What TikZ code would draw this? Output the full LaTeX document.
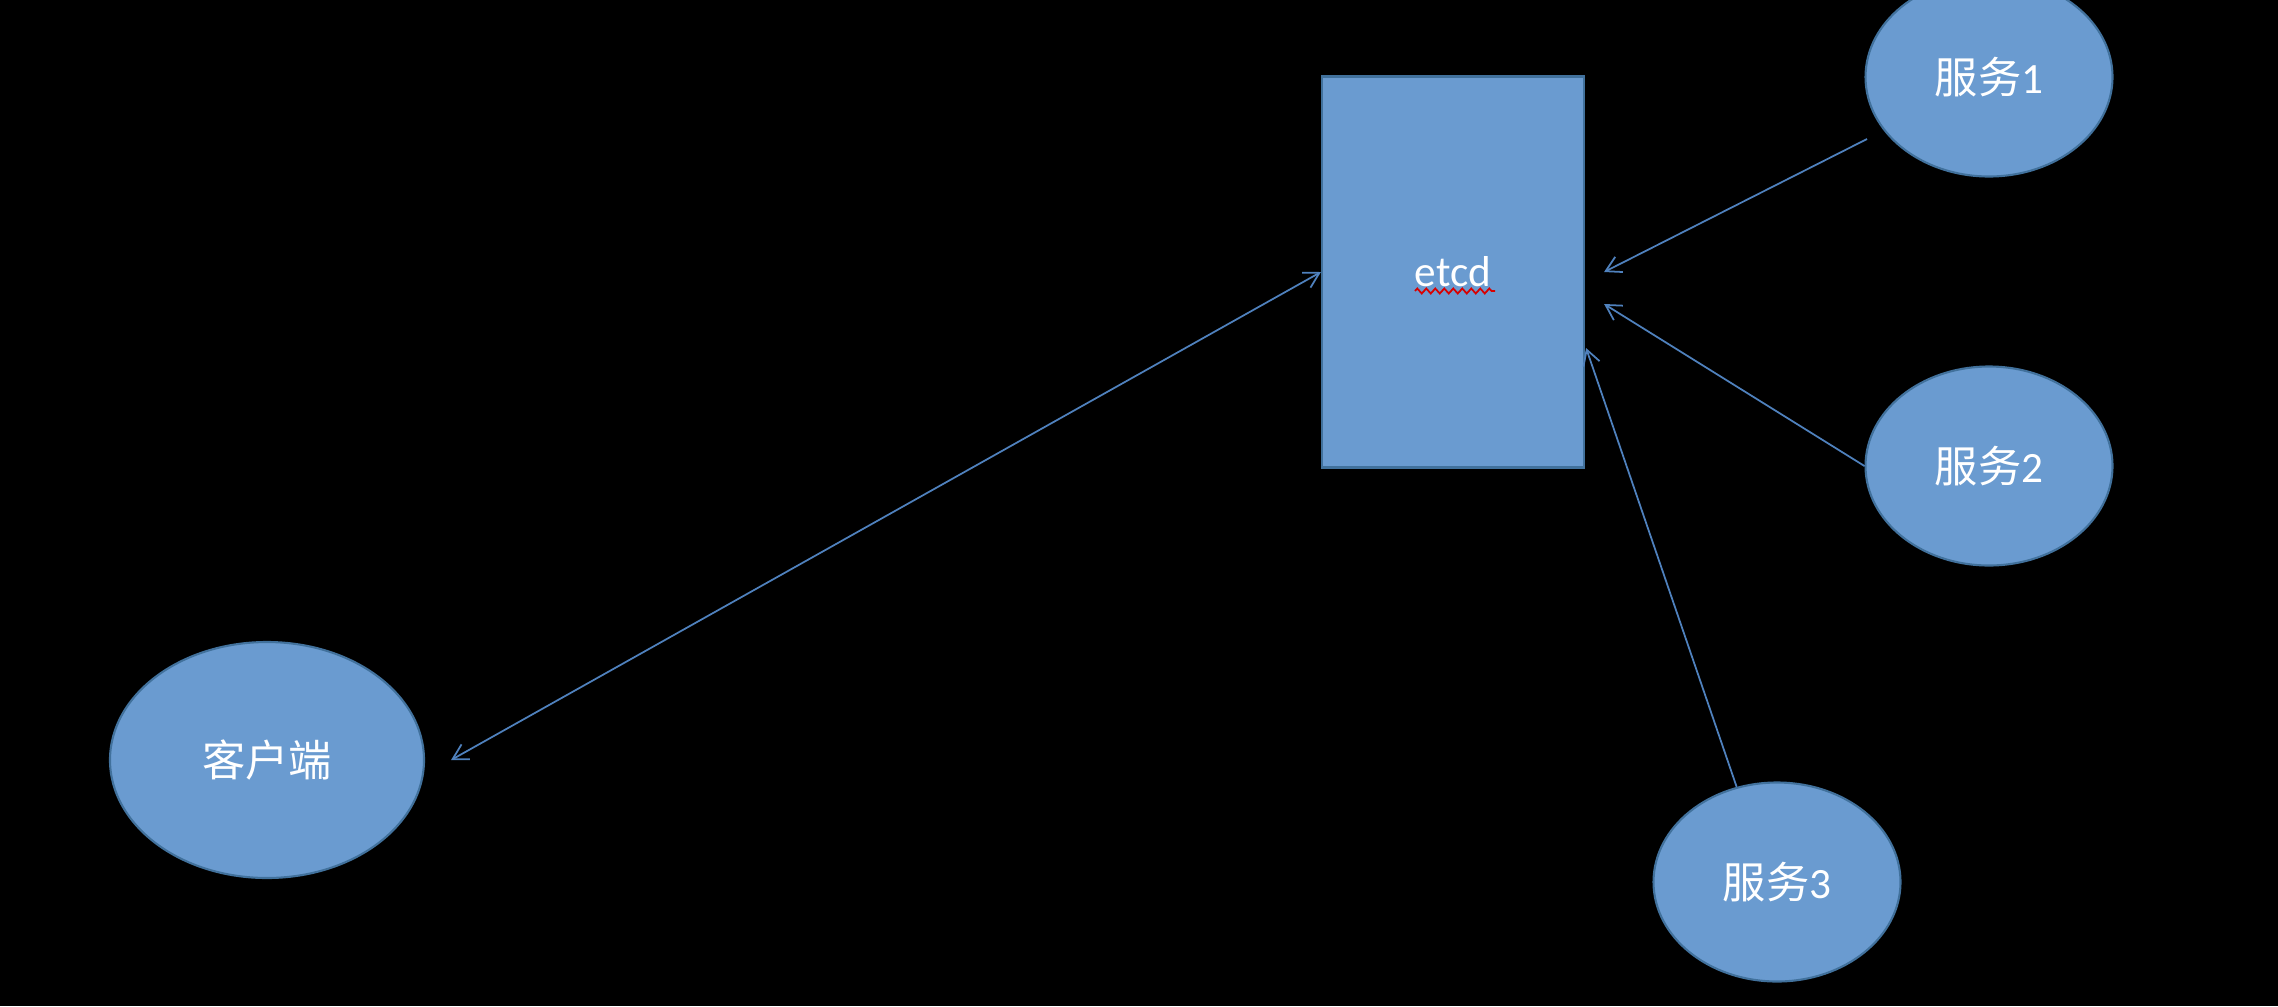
\documentclass[tikz,border=0pt]{standalone}
\usepackage{fontspec}
\usetikzlibrary{positioning,shapes.geometric,arrows.meta,decorations.pathmorphing}
\newfontfamily\cjk{Noto Sans CJK SC}
\newfontfamily\latin{Carlito}
\definecolor{shapefill}{RGB}{106,155,208}
\definecolor{shapeline}{RGB}{65,113,156}
\definecolor{linkline}{RGB}{79,129,189}
\tikzset{
	box/.style={rectangle, fill=shapefill, draw=shapeline, line width=0.6pt, minimum width=2.62cm, minimum height=3.91cm, inner sep=0pt, text=white},
	svc/.style={ellipse, fill=shapefill, draw=shapeline, line width=0.6pt, minimum width=2.47cm, minimum height=1.99cm, inner sep=0pt, text=white},
	link/.style={draw=linkline, line width=0.5pt, -{Straight Barb[length=1.5mm,width=1.7mm]}},
}

\begin{document}
\begin{tikzpicture}[font=\fontsize{12.3}{15}\selectfont]
			%%%%% START %%%%%
			
			\useasboundingbox (0, 0) rectangle (22.78, 10.06);
			\fill[black] (0, 0) rectangle (22.78, 10.06);
			\clip (0, 0) rectangle (22.78, 10.06);
			
			\node[box] (etcd) at (14.53, 7.34) {\latin etcd};
			\draw[red!85!black, line width=0.5pt, decorate, decoration={zigzag, segment length=0.9mm, amplitude=0.25mm}] ([shift={(-0.38, -0.19)}]etcd.center) -- ([shift={(0.42, -0.19)}]etcd.center);
			
			\node[svc] (s1) at (19.89, 9.29) {\cjk 服务\latin 1};
			\node[svc] (s2) at (19.89, 5.40) {\cjk 服务\latin 2};
			\node[svc] (s3) at (17.77, 1.24) {\cjk 服务\latin 3};
			\node[svc, minimum width=3.14cm, minimum height=2.36cm] (client) at (2.67, 2.46) {\cjk 客户端};
			
			% loose ends of the connectors
			\coordinate[right=2.6mm of client.east] (clientend);
			\coordinate (s1start) at ([shift={(-1.22, -0.62)}]s1.center);
			\coordinate (s1end) at ([shift={(0.19, 0)}]etcd.east);
			\coordinate (s2end) at ([shift={(0.19, -0.32)}]etcd.east);
			\coordinate (s3end) at ([shift={(0.01, -0.76)}]etcd.east);
			
			\draw[link, {Straight Barb[length=1.5mm,width=1.7mm]}-{Straight Barb[length=1.5mm,width=1.7mm]}] (clientend) -- (etcd.west);
			\draw[link] (s1start) -- (s1end);
			\draw[link] (s2.west) -- (s2end);
			\draw[link] (s3.113) -- (s3end);
			
			%%%%% END %%%%%
\end{tikzpicture}
\end{document}
